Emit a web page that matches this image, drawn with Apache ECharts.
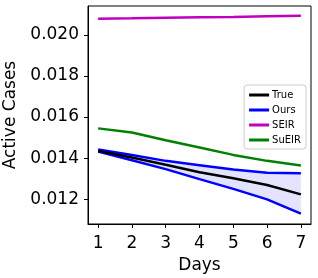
<!DOCTYPE html>
<html><head><meta charset="utf-8">
<script src="https://cdn.jsdelivr.net/npm/echarts@6/dist/echarts.min.js"></script>
<style>html,body{margin:0;padding:0;background:#fff}#c{width:318px;height:278px}</style>
</head><body><div id="c"></div>
<script>
const days = [1, 2, 3, 4, 5, 6, 7];
const trueVals = [0.01435, 0.01403, 0.01368, 0.01332, 0.01302, 0.01270, 0.01224];
const oursUpper = [0.01442, 0.01415, 0.01387, 0.01366, 0.01345, 0.01329, 0.01327];
const oursLower = [0.01432, 0.01390, 0.01347, 0.01298, 0.01251, 0.01200, 0.01130];
const seirVals = [0.02078, 0.02080, 0.02083, 0.02085, 0.02087, 0.02090, 0.02092];
const sueirVals = [0.01545, 0.01525, 0.01487, 0.01452, 0.01416, 0.01387, 0.01365];
const xTicks = [1, 2, 3, 4, 5, 6, 7];
const yTicks = [0.012, 0.014, 0.016, 0.018, 0.020];

const pair = arr => days.map((d, i) => [d, arr[i]]);
const font = 'DejaVu Sans';
const chart = echarts.init(document.getElementById('c'), null, {renderer: 'canvas'});
const lw = 2.5;
const bandData = days.map((d, i) => [d, oursLower[i], oursUpper[i]]);
chart.setOption({
  animation: false,
  grid: {left: 88, right: 7, top: 6, bottom: 54, outerBoundsMode: 'none', containLabel: false,
    show: true, borderColor: '#000', borderWidth: 1, backgroundColor: 'transparent'},
  legend: {
    data: ['True', 'Ours', 'SEIR', 'SuEIR'],
    orient: 'vertical', right: 12, top: 85,
    itemWidth: 20, itemHeight: 3, itemGap: 5,
    icon: 'rect',
    backgroundColor: '#fff', borderColor: '#ccc', borderWidth: 1, borderRadius: 3,
    padding: [5, 5, 4, 5],
    textStyle: {fontFamily: font, fontSize: 10, color: '#000', padding: [0, 0, 0, -2]}
  },
  xAxis: {
    type: 'value', min: 0.7, max: 7.3,
    name: 'Days', nameLocation: 'middle', nameGap: 31,
    nameTextStyle: {fontFamily: font, fontSize: 17, color: '#000'},
    axisLine: {show: true, onZero: false, lineStyle: {color: '#000'}},
    axisTick: {show: true, length: 4, customValues: xTicks, lineStyle: {color: '#000'}},
    axisLabel: {customValues: xTicks, fontFamily: font, fontSize: 17, color: '#000', margin: 11},
    splitLine: {show: false}
  },
  yAxis: {
    type: 'value', min: 0.0108, max: 0.0214,
    name: 'Active Cases', nameLocation: 'middle', nameGap: 62,
    nameTextStyle: {fontFamily: font, fontSize: 17, color: '#000'},
    axisLine: {show: true, onZero: false, lineStyle: {color: '#000'}},
    axisTick: {show: true, length: 4, customValues: yTicks, lineStyle: {color: '#000'}},
    axisLabel: {customValues: yTicks, fontFamily: font, fontSize: 17, color: '#000', margin: 9,
      formatter: v => v.toFixed(3)},
    splitLine: {show: false}
  },
  series: [
    {name: 'band', type: 'custom', data: bandData, silent: true, z: 1,
     renderItem: function (params, api) {
       if (params.dataIndex !== 0) return null;
       const pts = [];
       bandData.forEach(r => pts.push(api.coord([r[0], r[2]])));
       for (let i = bandData.length - 1; i >= 0; i--) pts.push(api.coord([bandData[i][0], bandData[i][1]]));
       return {type: 'polygon', shape: {points: pts}, style: {fill: 'rgba(0,0,255,0.11)'}};
     }},
    {name: 'True', type: 'line', data: pair(trueVals), symbol: 'none', color: '#000', lineStyle: {width: lw, color: '#000'}, z: 3},
    {name: 'Ours', type: 'line', data: pair(oursUpper), symbol: 'none', color: '#0000ff', lineStyle: {width: lw, color: '#0000ff'}, z: 2},
    {name: 'Ours', type: 'line', data: pair(oursLower), symbol: 'none', color: '#0000ff', lineStyle: {width: lw, color: '#0000ff'}, z: 2},
    {name: 'SEIR', type: 'line', data: pair(seirVals), symbol: 'none', color: '#bf00bf', lineStyle: {width: lw, color: '#bf00bf'}, z: 2},
    {name: 'SuEIR', type: 'line', data: pair(sueirVals), symbol: 'none', color: '#008000', lineStyle: {width: lw, color: '#008000'}, z: 2}
  ]
});
</script></body></html>
